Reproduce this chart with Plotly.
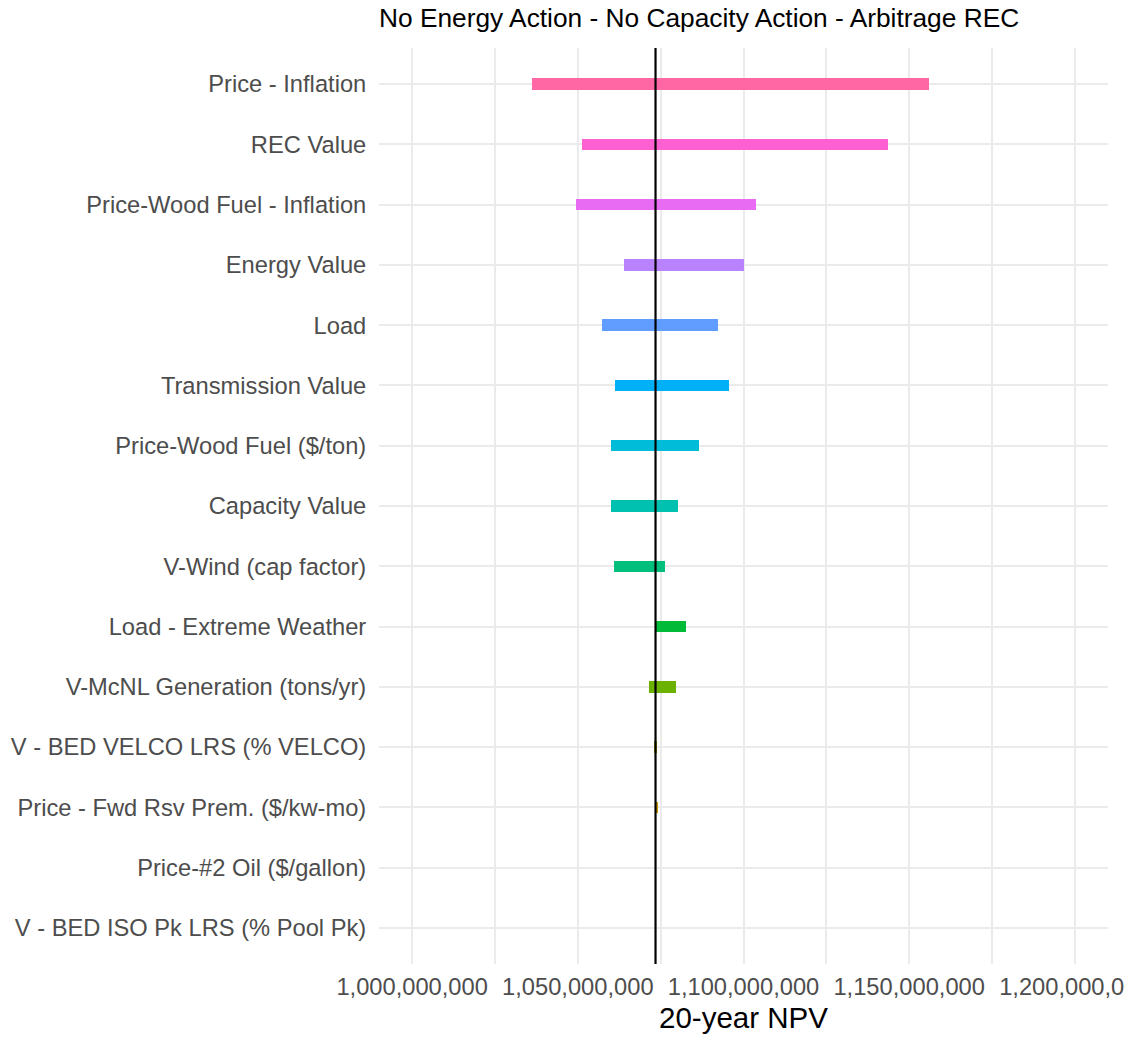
import plotly.graph_objects as go

# Categories top-to-bottom as shown
categories = [
    "Price - Inflation",
    "REC Value",
    "Price-Wood Fuel - Inflation",
    "Energy Value",
    "Load",
    "Transmission Value",
    "Price-Wood Fuel ($/ton)",
    "Capacity Value",
    "V-Wind (cap factor)",
    "Load - Extreme Weather",
    "V-McNL Generation (tons/yr)",
    "V - BED VELCO LRS (% VELCO)",
    "Price - Fwd Rsv Prem. ($/kw-mo)",
    "Price-#2 Oil ($/gallon)",
    "V - BED ISO Pk LRS (% Pool Pk)",
]

base_npv = 1_073_450_000

low_npv = [
    1_036_300_000, 1_051_200_000, 1_049_600_000, 1_063_800_000, 1_057_200_000,
    1_061_300_000, 1_059_900_000, 1_060_100_000, 1_060_900_000, 1_073_450_000,
    1_071_400_000, 1_073_000_000, 1_073_450_000, 1_073_450_000, 1_073_450_000,
]
high_npv = [
    1_155_900_000, 1_143_500_000, 1_103_800_000, 1_100_100_000, 1_092_300_000,
    1_095_500_000, 1_086_700_000, 1_080_300_000, 1_076_400_000, 1_082_600_000,
    1_079_500_000, 1_073_800_000, 1_074_300_000, 1_073_450_000, 1_073_450_000,
]

colors = [
    "#FF67A4", "#FD61D1", "#E76BF3", "#B983FF", "#619CFF",
    "#00B0F6", "#00BCD8", "#00C0AF", "#00BF7D", "#00BA38",
    "#6BB100", "#A3A500", "#C99800", "#E58700", "#F8766D",
]

x_ticks = [1_000_000_000, 1_050_000_000, 1_100_000_000, 1_150_000_000, 1_200_000_000]

fig = go.Figure()
fig.add_trace(go.Bar(
    y=categories,
    x=[h - l for l, h in zip(low_npv, high_npv)],
    base=low_npv,
    orientation="h",
    width=0.19,
    marker=dict(color=colors, line=dict(width=0)),
    showlegend=False,
    hoverinfo="skip",
))

fig.add_shape(
    type="line", xref="x", yref="paper",
    x0=base_npv, x1=base_npv, y0=0, y1=1,
    line=dict(color="black", width=2.2), layer="above",
)

grid = "#EBEBEB"
W, H = 1125, 1032
fig.update_layout(
    width=W, height=H,
    margin=dict(l=371, r=25, t=40, b=76),
    paper_bgcolor="white", plot_bgcolor="white",
    font=dict(family="Liberation Sans, Arial, sans-serif", color="#4D4D4D", size=23.7),
    title=dict(
        text="No Energy Action - No Capacity Action - Arbitrage REC",
        x=0, xref="paper", xanchor="left",
        y=1 - 10 / H, yref="container", yanchor="middle",
        font=dict(size=26.3, color="black"),
    ),
    bargap=0,
    xaxis=dict(
        range=[990_000_000, 1_210_000_000],
        tickvals=x_ticks,
        tickformat=",",
        ticklabeloverflow="allow",
        showgrid=True, gridcolor=grid, gridwidth=1.8,
        minor=dict(dtick=25_000_000, tick0=1_000_000_000, showgrid=True,
                   gridcolor=grid, gridwidth=1.6),
        zeroline=False, showline=False,
        ticks="outside", ticklen=2, tickcolor="rgba(0,0,0,0)",
        tickfont=dict(size=23.7, color="#4D4D4D"),
        title=dict(text="20-year NPV", font=dict(size=29.5, color="black"), standoff=7),
        automargin=False,
    ),
    yaxis=dict(
        type="category",
        categoryorder="array",
        categoryarray=categories[::-1],
        range=[-0.6, 14.6],
        showgrid=True, gridcolor=grid, gridwidth=1.8,
        zeroline=False, showline=False,
        ticks="outside", ticklen=7, tickcolor="rgba(0,0,0,0)",
        tickfont=dict(size=23.7, color="#4D4D4D"),
        automargin=False,
    ),
)

fig.write_html("out.html")
